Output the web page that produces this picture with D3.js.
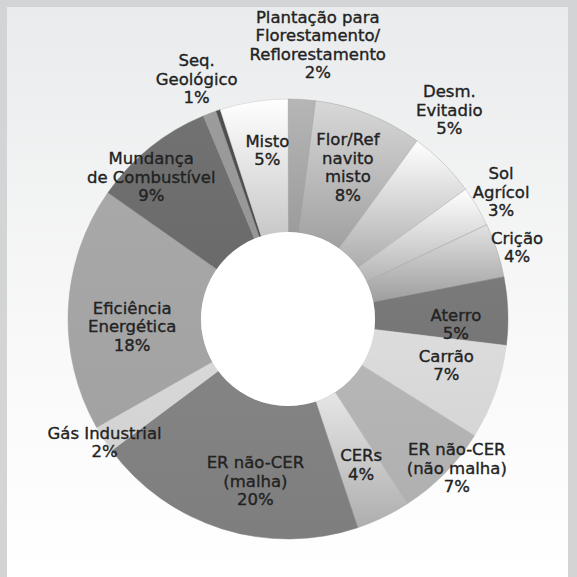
<!DOCTYPE html>
<html>
<head>
<meta charset="utf-8">
<script src="https://cdn.jsdelivr.net/npm/d3@7"></script>
<style>
  html, body { margin: 0; padding: 0; background: #d3d4d5; }
  svg { display: block; }
</style>
</head>
<body>
<div id="body"></div>
<script>
// slice names, clockwise from 12 o'clock
let labels = [
  ["Plantação para", "Florestamento/", "Reflorestamento"],
  ["Flor/Ref", "navito", "misto"],
  ["Desm.", "Evitadio"],
  ["Sol", "Agrícol"],
  ["Crição"],
  ["Aterro"],
  ["Carrão"],
  ["ER não-CER", "(não malha)"],
  ["CERs"],
  ["ER não-CER", "(malha)"],
  ["Gás Industrial"],
  ["Eficiência", "Energética"],
  ["Mundança", "de Combustível"],
  ["Seq.", "Geológico"],
  [],
  ["Misto"]
];
// shares in percent (the unlabeled one is the thin dark sliver)
let values = [2, 8, 5, 3, 4, 5, 7, 7, 4, 20, 2, 18, 9, 1, 0.3, 5];
let pctText = ["2%", "8%", "5%", "3%", "4%", "5%", "7%", "7%", "4%", "20%", "2%", "18%", "9%", "1%", "", "5%"];

// fill gradient per slice: top colour, bottom colour
let fillTop = ["#b6b6b6", "#d8d8d8", "#ffffff", "#ffffff", "#e2e2e2", "#7a7a7a", "#dcdcdc", "#b6b6b6",
  "#e6e6e6", "#848484", "#d8d8d8", "#a8a8a8", "#727272", "#9c9c9c", "#4e4e4e", "#ffffff"];
let fillBottom = ["#9c9c9c", "#a0a0a0", "#acacac", "#b4b4b4", "#9e9e9e", "#767676", "#d6d6d6", "#b0b0b0",
  "#aeaeae", "#7e7e7e", "#d2d2d2", "#a2a2a2", "#6a6a6a", "#969696", "#4e4e4e", "#c8c8c8"];
// label placement: radius and angle nudge (degrees)
let labelR = [276, 163, 264, 248, 240, 168, 165, 225, 163, 165, 221, 156, 197, 257, 0, 170];
let labelNudge = [2.6, 0, -7.2, 0, 0.8, 3.8, -3.2, -3.2, -1, -6, -0.8, -5.6, -5.2, 0, 0, 2];

let width = 577,
  height = 577;
let cx = 288,
  cy = 319;
let outerR = 220,
  innerR = 87;

let svg = d3.select("#body")
  .append("svg")
  .attr("width", width)
  .attr("height", height);

let defs = svg.append("defs");

let bg = defs.append("linearGradient")
  .attr("id", "bg")
  .attr("x1", 0).attr("y1", 0).attr("x2", 0).attr("y2", 1);
bg.append("stop").attr("offset", "0%").attr("stop-color", "#e9ebec");
bg.append("stop").attr("offset", "55%").attr("stop-color", "#f8f8f8");
bg.append("stop").attr("offset", "100%").attr("stop-color", "#ffffff");

// outer grey frame + panel
svg.append("rect").attr("width", width).attr("height", height).attr("fill", "#d3d4d5");
svg.append("rect")
  .attr("x", 7).attr("y", 7)
  .attr("width", 561).attr("height", 570)
  .attr("fill", "url(#bg)");

values.forEach(function(v, i) {
  let g = defs.append("linearGradient")
    .attr("id", "sl" + i)
    .attr("x1", 0).attr("y1", 0).attr("x2", 0).attr("y2", 1);
  g.append("stop").attr("offset", "0%").attr("stop-color", fillTop[i]);
  g.append("stop").attr("offset", "100%").attr("stop-color", fillBottom[i]);
});

let pie = d3.pie().sort(null).value((d) => d);
let arcs = pie(values);
let arc = d3.arc().innerRadius(innerR).outerRadius(outerR);

let chart = svg.append("g").attr("transform", "translate(" + cx + "," + cy + ")");

chart.selectAll(".slice")
  .data(arcs)
  .enter()
  .append("path")
  .attr("class", "slice")
  .attr("d", arc)
  .attr("fill", (d, i) => "url(#sl" + i + ")")
  .attr("stroke", (d, i) => fillBottom[i])
  .attr("stroke-width", 0.5);

// centre hole
chart.append("circle").attr("r", innerR).attr("fill", "#ffffff");

let lineH = 18.5;
let label = chart.selectAll(".lbl")
  .data(arcs.filter((d, i) => labels[i].length))
  .enter()
  .append("text")
  .attr("class", "lbl")
  .attr("text-anchor", "middle")
  .style("font-family", "'DejaVu Sans', sans-serif")
  .style("font-size", "16.5px")
  .style("fill", "#222")
  .style("stroke", "#222")
  .style("stroke-width", 0.35)
  .attr("transform", function(d) {
    let i = d.index;
    let a = (d.startAngle + d.endAngle) / 2 + labelNudge[i] * Math.PI / 180;
    let x = labelR[i] * Math.sin(a);
    let y = -labelR[i] * Math.cos(a);
    return "translate(" + x + "," + y + ")";
  });

label.each(function(d) {
  let i = d.index;
  let lines = labels[i].concat([pctText[i]]);
  let t = d3.select(this);
  let y0 = -(lines.length - 1) * lineH / 2;
  lines.forEach(function(s, k) {
    t.append("tspan")
      .attr("x", 0)
      .attr("y", y0 + k * lineH)
      .attr("dy", "0.35em")
      .text(s);
  });
});
</script>
</body>
</html>
